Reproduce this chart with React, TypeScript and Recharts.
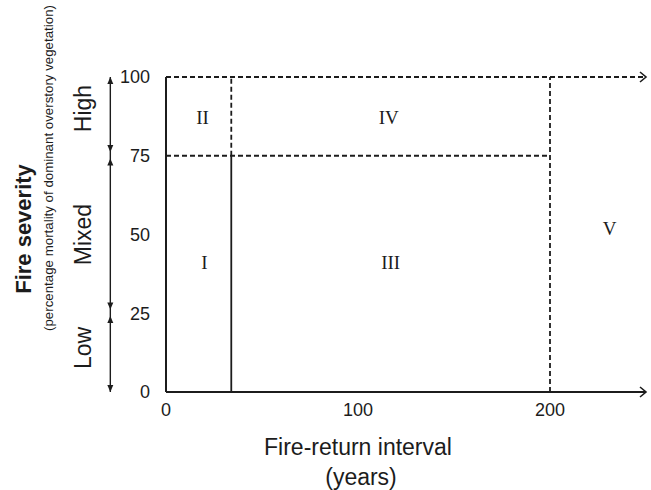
import React from 'react';
import {
  ComposedChart,
  XAxis,
  YAxis,
  Scatter,
  ReferenceLine,
  ReferenceDot,
} from 'recharts';

// axis ticks
const xTicks = [0, 100, 200];
const yTicks = [0, 25, 50, 75, 100];

// fire regimes, placed at their label centre (years, % mortality)
const regimes = [
  { name: 'I', x: 20, y: 41 },
  { name: 'II', x: 19, y: 87 },
  { name: 'III', x: 117, y: 41 },
  { name: 'IV', x: 116, y: 87 },
  { name: 'V', x: 231, y: 52 },
];

// boundaries between regimes
const solidBounds = [
  { x1: 34, y1: 0, x2: 34, y2: 75 },
];
const dashedBounds = [
  { x1: 34, y1: 75, x2: 34, y2: 100 },
  { x1: 0, y1: 75, x2: 200, y2: 75 },
  { x1: 0, y1: 100, x2: 250, y2: 100 },
  { x1: 200, y1: 0, x2: 200, y2: 100 },
];

// severity classes on the left scale
const severityClasses = [
  { name: 'High', y: 90 },
  { name: 'Mixed', y: 50 },
  { name: 'Low', y: 14 },
];
const severityBreaks = [25, 75];
const SCALE_X = -29;
const CLASS_X = -43;

const INK = '#1c1c1c';
const SANS = '"Liberation Sans", Arial, Helvetica, sans-serif';
const SERIF = '"Liberation Serif", "Times New Roman", serif';

const RegimeLabel = (props: any) => {
  const { cx, cy, payload } = props;
  return (
    <text x={cx} y={cy} textAnchor="middle" dominantBaseline="central" fontFamily={SERIF} fontSize={19} fill={INK}>
      {payload.name}
    </text>
  );
};

const Chevron = (props: any) => {
  const { cx, cy } = props;
  return <path d={`M${cx - 6},${cy - 5} L${cx},${cy} L${cx - 6},${cy + 5}`} stroke={INK} strokeWidth={1.6} fill="none" />;
};

const Head = (up: boolean) => (props: any) => {
  const { cx, cy } = props;
  const s = up ? 1 : -1;
  return <path d={`M${cx},${cy} L${cx - 3},${cy + s * 7} L${cx + 3},${cy + s * 7} Z`} fill={INK} />;
};

const ClassText = (name: string) => (props: any) => {
  const { cx, cy } = props;
  return (
    <text
      x={cx + 8}
      y={cy}
      transform={`rotate(-90 ${cx + 8} ${cy})`}
      textAnchor="middle"
      fontFamily={SANS}
      fontSize={23}
      fill={INK}
    >
      {name}
    </text>
  );
};

const XTitle = (props: any) => {
  const { x, y } = props.viewBox;
  return (
    <text textAnchor="middle" fontFamily={SANS} fontSize={23} fill={INK}>
      <tspan x={x + 192} y={y + 63}>Fire-return interval</tspan>
      <tspan x={x + 195} y={y + 93}>(years)</tspan>
    </text>
  );
};

const YTitle = (props: any) => {
  const { x } = props.viewBox;
  return (
    <g fill={INK} fontFamily={SANS}>
      <text x={x - 75} y={229} transform={`rotate(-90 ${x - 75} 229)`} textAnchor="middle" fontSize={22} fontWeight="bold">
        Fire severity
      </text>
      <text x={x - 53} y={168} transform={`rotate(-90 ${x - 53} 168)`} textAnchor="middle" fontSize={13.3}>
        (percentage mortality of dominant overstory vegetation)
      </text>
    </g>
  );
};

export default function App() {
  return (
    <div style={{ position: 'absolute', left: 0, top: 0, width: 651, height: 490, background: '#fff' }}>
      <ComposedChart width={651} height={490} margin={{ top: 77, right: 5, left: 106, bottom: 68 }}>
        <XAxis
          type="number"
          dataKey="x"
          domain={[0, 250]}
          ticks={xTicks}
          tickLine={false}
          tickSize={0}
          tickMargin={11}
          axisLine={{ stroke: INK, strokeWidth: 2 }}
          tick={{ fill: INK, fontSize: 18, fontFamily: SANS }}
          height={30}
          label={{ content: (p: any) => <XTitle viewBox={p.viewBox} /> }}
        />
        <YAxis
          type="number"
          dataKey="y"
          domain={[0, 100]}
          ticks={yTicks}
          tickLine={false}
          tickSize={0}
          tickMargin={16}
          axisLine={{ stroke: INK, strokeWidth: 2 }}
          tick={{ fill: INK, fontSize: 18, fontFamily: SANS }}
          width={60}
          label={{ content: (p: any) => <YTitle viewBox={p.viewBox} /> }}
        />
        {solidBounds.map((b, i) => (
          <ReferenceLine
            key={`s${i}`}
            segment={[{ x: b.x1, y: b.y1 }, { x: b.x2, y: b.y2 }]}
            stroke={INK}
            strokeWidth={1.8}
            ifOverflow="visible"
          />
        ))}
        {dashedBounds.map((b, i) => (
          <ReferenceLine
            key={`d${i}`}
            segment={[{ x: b.x1, y: b.y1 }, { x: b.x2, y: b.y2 }]}
            stroke={INK}
            strokeWidth={1.8}
            strokeDasharray="5 3"
            ifOverflow="visible"
          />
        ))}
        <ReferenceDot x={250} y={100} r={0} ifOverflow="visible" shape={Chevron} />
        <ReferenceDot x={250} y={0} r={0} ifOverflow="visible" shape={Chevron} />

        {/* severity scale on the left */}
        <ReferenceLine
          segment={[{ x: SCALE_X, y: 0 }, { x: SCALE_X, y: 100 }]}
          stroke={INK}
          strokeWidth={1.4}
          ifOverflow="visible"
        />
        <ReferenceDot x={SCALE_X} y={100} r={0} ifOverflow="visible" shape={Head(true)} />
        <ReferenceDot x={SCALE_X} y={0} r={0} ifOverflow="visible" shape={Head(false)} />
        {severityBreaks.map((v) => (
          <React.Fragment key={v}>
            <ReferenceDot x={SCALE_X} y={v + 1.2} r={0} ifOverflow="visible" shape={Head(false)} />
            <ReferenceDot x={SCALE_X} y={v - 0.9} r={0} ifOverflow="visible" shape={Head(true)} />
          </React.Fragment>
        ))}
        {severityClasses.map((c) => (
          <ReferenceDot key={c.name} x={CLASS_X} y={c.y} r={0} ifOverflow="visible" shape={ClassText(c.name)} />
        ))}

        <Scatter data={regimes} shape={RegimeLabel} isAnimationActive={false} />
      </ComposedChart>
    </div>
  );
}
